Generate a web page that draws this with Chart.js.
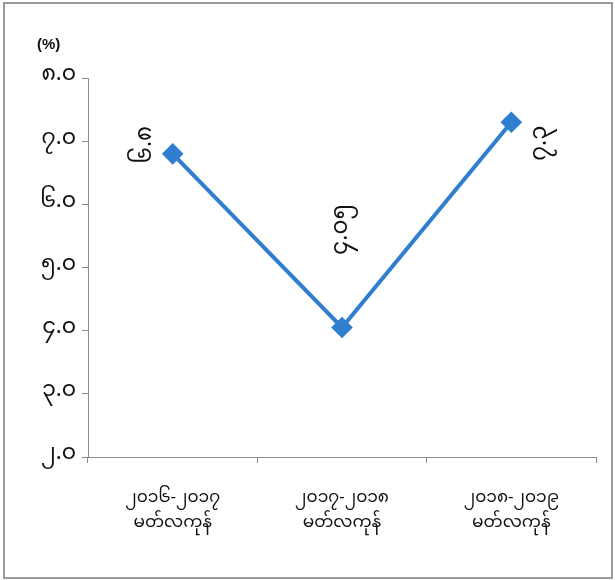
<!DOCTYPE html>
<html>
<head>
<meta charset="utf-8">
<script src="https://cdn.jsdelivr.net/npm/chart.js@4"></script>
<style>
  body { margin: 0; background: #fff; }
  #wrap { width: 615px; height: 580px; position: relative; }
</style>
</head>
<body>
<div id="wrap"><canvas id="grafica" width="615" height="580"></canvas></div>
<script>
const periodos = [
    ["၂၀၁၆-၂၀၁၇", "မတ်လကုန်"],
    ["၂၀၁၇-၂၀၁၈", "မတ်လကုန်"],
    ["၂၀၁၈-၂၀၁၉", "မတ်လကုန်"]
];
const valores = [6.8, 4.05, 7.3];
const etiquetasValor = ["၆.၈", "၄.၀၅", "၇.၃"];
const ticksY = [2, 3, 4, 5, 6, 7, 8];
const etiquetasY = ["၂.၀", "၃.၀", "၄.၀", "၅.၀", "၆.၀", "၇.၀", "၈.၀"];
const unidad = "(%)";

const fuente = "'Noto Sans Myanmar', 'Padauk', 'Myanmar Text', 'Noto Sans', sans-serif";
const gris = "#8c8c8c";

// offsets de las etiquetas de valor (x, y) respecto al punto
const desplaz = [[-24, -9], [3, -98], [32, 21]];

const extras = {
    id: "extras",
    beforeDraw(chart) {
        const ctx = chart.ctx;
        ctx.save();
        ctx.fillStyle = "#fff";
        ctx.fillRect(0, 0, chart.width, chart.height);
        ctx.strokeStyle = "#9a9a9a";
        ctx.lineWidth = 2;
        ctx.strokeRect(4, 3, chart.width - 7, chart.height - 5);
        ctx.restore();
    },
    afterDatasetsDraw(chart) {
        const ctx = chart.ctx;
        const meta = chart.getDatasetMeta(0);
        ctx.save();
        ctx.fillStyle = "#111";
        ctx.font = "23px " + fuente;
        ctx.textAlign = "center";
        ctx.textBaseline = "middle";
        meta.data.forEach((p, i) => {
            ctx.save();
            ctx.translate(p.x + desplaz[i][0], p.y + desplaz[i][1]);
            ctx.rotate(-Math.PI / 2);
            ctx.fillText(etiquetasValor[i], 0, 0);
            ctx.restore();
        });
        ctx.font = "bold 15px 'Liberation Sans', sans-serif";
        ctx.textAlign = "left";
        ctx.fillText(unidad, 37, 45);
        ctx.restore();
    }
};

new Chart(document.getElementById("grafica"), {
    type: "line",
    data: {
        labels: periodos,
        datasets: [{
            data: valores,
            borderColor: "#2f7ed0",
            backgroundColor: "#2f7ed0",
            borderWidth: 4,
            pointStyle: "rectRot",
            pointRadius: 8,
            pointHoverRadius: 8,
            tension: 0
        }]
    },
    options: {
        responsive: false,
        animation: false,
        layout: { padding: { top: 78, right: 19, bottom: 18, left: 30 } },
        plugins: { legend: { display: false }, tooltip: { enabled: false } },
        scales: {
            x: {
                offset: true,
                grid: { display: true, offset: true, drawOnChartArea: false, tickLength: 6, color: gris },
                border: { color: gris, width: 1 },
                ticks: { color: "#111", font: { family: fuente, size: 17, lineHeight: 1.5 }, padding: 24, maxRotation: 0 }
            },
            y: {
                min: 2,
                max: 8,
                afterBuildTicks(scale) {
                    scale.ticks = ticksY.map(v => ({ value: v }));
                },
                afterFit(scale) { scale.width = 58; },
                grid: { display: true, drawOnChartArea: false, tickLength: 6, color: gris },
                border: { color: gris, width: 1 },
                ticks: {
                    color: "#111",
                    font: { family: fuente, size: 22 },
                    padding: 6,
                    callback: (v) => etiquetasY[ticksY.indexOf(v)]
                }
            }
        }
    },
    plugins: [extras]
});
</script>
</body>
</html>
